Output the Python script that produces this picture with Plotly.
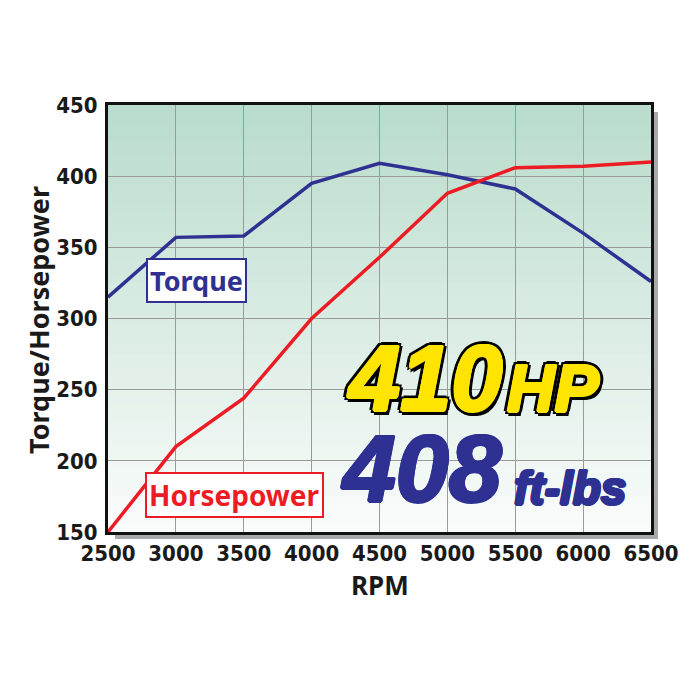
import plotly.graph_objects as go

# data
rpm = [2500, 3000, 3500, 4000, 4500, 5000, 5500, 6000, 6500]
torque = [315, 357, 358, 395, 409, 401, 391, 360, 326]
horsepower = [150, 210, 244, 300, 343, 388, 406, 407, 410]
y_ticks = [150, 200, 250, 300, 350, 400, 450]

NAVY = '#2e3192'
RED = '#ed1c24'
YELLOW = '#ffe400'
INK = '#1a1a1a'
TICK_FONT = 'DejaVu Sans Condensed, sans-serif'
LABEL_FONT = 'Noto Sans, sans-serif'

# plot box in screen pixels (page body has an 8px margin)
L, R, T, B = 108, 651, 105, 532
W, H = R - L, B - T
OFF = 8


def px(x, y):
    return (x - L) / W, (B - y) / H


def note(x, y, text, **kw):
    xp, yp = px(x, y)
    d = dict(xref='paper', yref='paper', x=xp, y=yp, text=text, showarrow=False,
             xanchor='center', yanchor='middle')
    d.update(kw)
    return d


def ring(r, color):
    pts = [(-r, 0), (r, 0), (0, -r), (0, r), (r * .7, r * .7), (-r * .7, -r * .7),
           (r * .7, -r * .7), (-r * .7, r * .7)]
    return ', '.join('%gpx %gpx 0 %s' % (dx, dy, color) for dx, dy in pts)


fig = go.Figure()
fig.add_trace(go.Scatter(x=rpm, y=torque, mode='lines', name='Torque',
                         line=dict(color=NAVY, width=3.5), hoverinfo='skip'))
fig.add_trace(go.Scatter(x=rpm, y=horsepower, mode='lines', name='Horsepower',
                         line=dict(color=RED, width=3.5), hoverinfo='skip'))

shapes = []
# drop shadow
shapes.append(dict(type='rect', xref='paper', yref='paper', layer='below',
                   x0=7 / W, x1=1 + 7 / W, y0=-7 / H, y1=1 - 7 / H,
                   fillcolor='#a7a9ac', line=dict(width=0)))
# vertical gradient background
top_c, bot_c = (185, 220, 204), (250, 252, 251)
n = 60
for i in range(n):
    f = i / (n - 1)
    c = tuple(round(bot_c[k] + (top_c[k] - bot_c[k]) * f) for k in range(3))
    shapes.append(dict(type='rect', xref='x domain', yref='y domain', layer='below',
                       x0=0, x1=1, y0=i / n, y1=(i + 1) / n + 0.002,
                       fillcolor='rgb(%d,%d,%d)' % c, line=dict(width=0)))

outline = ring(1.5, YELLOW) + ', ' + ring(3, '#000') + ', ' + ring(4.5, '#000') + ', 3px 5px 0 #000'
thick = ring(1.5, NAVY)
big = 'Liberation Sans, Arial, sans-serif'

annotations = [
    note(38, 320, '<b>Torque/Horsepower</b>', textangle=-90,
         font=dict(family=LABEL_FONT, size=27, color=INK)),
    note(380, 585, '<b>RPM</b>', font=dict(family=LABEL_FONT, size=26, color=INK)),
    note(196, 280, '<b>Torque</b>', bgcolor='white', bordercolor=NAVY, borderwidth=2, borderpad=2,
         font=dict(family=LABEL_FONT, size=27, color=NAVY)),
    note(234, 495, '<b>Horsepower</b>', bgcolor='white', bordercolor=RED, borderwidth=2, borderpad=2,
         font=dict(family=LABEL_FONT, size=28, color=RED)),
    note(425, 378, '<b>410</b>', font=dict(family=big, size=92, color=YELLOW, style='italic',
                                           shadow=outline)),
    note(553, 388, '<b>HP</b>', font=dict(family=big, size=66, color=YELLOW, style='italic',
                                          shadow=outline)),
    note(421, 468, '<b>408</b>', font=dict(family=big, size=95, color=NAVY, style='italic', shadow=thick)),
    note(570, 488, '<b>ft-lbs</b>', font=dict(family=big, size=46, color=NAVY, style='italic', shadow=thick)),
]

fig.update_layout(
    width=700, height=700,
    margin=dict(l=L - OFF, r=700 + OFF - R, t=T - OFF, b=700 + OFF - B),
    paper_bgcolor='white', plot_bgcolor='white',
    showlegend=False,
    shapes=shapes, annotations=annotations,
    xaxis=dict(range=[2500, 6500], tickvals=rpm, showgrid=True, gridcolor='#9a9a9a', gridwidth=1,
               showline=True, mirror=True, linecolor='#111', linewidth=3, zeroline=False,
               ticks='', ticklabelstandoff=0,
               tickfont=dict(family=TICK_FONT, size=22, color=INK, weight='bold')),
    yaxis=dict(range=[150, 450], tickvals=y_ticks, showgrid=True, gridcolor='#9a9a9a', gridwidth=1,
               showline=True, mirror=True, linecolor='#111', linewidth=3, zeroline=False,
               ticks='', ticklabelstandoff=3,
               tickfont=dict(family=TICK_FONT, size=22, color=INK, weight='bold')),
)

fig.write_html('out.html')
